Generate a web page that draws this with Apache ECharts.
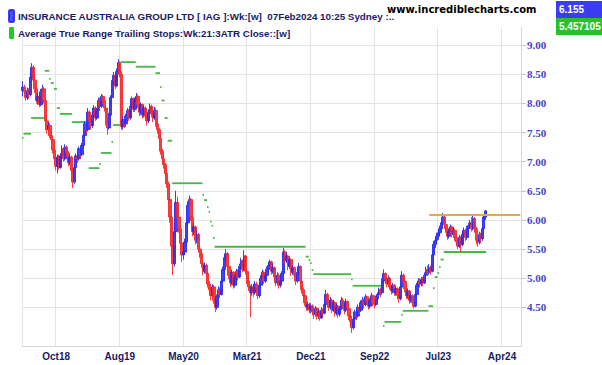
<!DOCTYPE html>
<html>
<head>
<meta charset="utf-8">
<script src="https://cdn.jsdelivr.net/npm/echarts@6/dist/echarts.min.js"></script>
<style>
html,body{margin:0;padding:0;background:#fff;}
#chart{width:602px;height:365px;}
</style>
</head>
<body>
<div id="chart"></div>
<script>
// ---- data ----
const priceTitle = 'INSURANCE AUSTRALIA GROUP LTD [ IAG ]:Wk:[w]  07Feb2024 10:25 Sydney :..';
const stopTitle = 'Average True Range Trailing Stops:Wk:21:3ATR Close::[w]';
const lastPrice = '6.155';
const lastStop = '5.457105';
const siteName = 'www.incrediblecharts.com';

const weekCount = 329;                       // weekly slots on the axis (incl. empty future space)
const tickWeeks = [22, 64, 106, 148, 190, 232, 274, 316];
const tickLabels = ['Oct18', 'Aug19', 'May20', 'Mar21', 'Dec21', 'Sep22', 'Jul23', 'Apr24'];
const yTickValues = [4.5, 5, 5.5, 6, 6.5, 7, 7.5, 8, 8.5, 9];

// weekly bars: [open, close, low, high]
const weeklyBars = [
[8.22,8.28,8.12,8.38],[8.28,8.20,8.14,8.32],[8.20,8.10,8.05,8.24],[8.10,8.22,8.06,8.27],[8.22,8.15,8.08,8.26],
[8.15,8.45,8.12,8.52],[8.45,8.62,8.40,8.69],[8.62,8.40,8.35,8.66],[8.40,8.25,8.18,8.46],[8.25,8.05,8.00,8.30],
[8.05,8.12,7.98,8.18],[8.12,7.98,7.94,8.16],[7.98,8.20,7.95,8.25],[8.20,8.25,8.12,8.32],[8.25,8.05,8.00,8.28],
[8.05,7.70,7.65,8.08],[7.70,7.55,7.48,7.76],[7.55,7.62,7.50,7.68],[7.62,7.45,7.40,7.66],[7.45,7.38,7.32,7.50],
[7.38,7.20,7.14,7.42],[7.20,7.05,7.00,7.24],[7.05,6.92,6.85,7.10],[6.92,7.08,6.80,7.12],[7.08,6.90,6.86,7.12],
[6.90,7.10,6.88,7.15],[7.10,7.22,7.05,7.28],[7.22,7.05,7.00,7.25],[7.05,7.25,7.02,7.30],[7.25,7.15,7.08,7.28],
[7.15,6.98,6.92,7.18],[6.98,7.08,6.94,7.12],[7.08,6.85,6.80,7.10],[6.85,6.65,6.55,6.90],[6.65,6.90,6.62,6.95],
[6.90,7.10,6.88,7.14],[7.10,7.05,6.98,7.15],[7.05,7.22,7.02,7.26],[7.22,7.12,7.06,7.25],[7.12,7.28,7.10,7.32],
[7.28,7.45,7.25,7.50],[7.45,7.65,7.42,7.70],[7.65,7.55,7.48,7.68],[7.55,7.85,7.52,7.92],[7.85,7.70,7.62,7.88],
[7.70,7.62,7.55,7.75],[7.62,7.80,7.58,7.84],[7.80,7.92,7.76,7.97],[7.92,7.75,7.70,7.95],[7.75,7.88,7.72,7.92],
[7.88,8.05,7.85,8.10],[8.05,7.95,7.90,8.10],[7.95,8.12,7.92,8.16],[8.12,8.05,7.98,8.15],[8.05,7.92,7.86,8.08],
[7.92,7.68,7.62,7.95],[7.68,7.58,7.46,7.72],[7.58,7.80,7.55,7.84],[7.80,8.10,7.78,8.14],[8.10,8.35,8.06,8.40],
[8.35,8.48,8.30,8.54],[8.48,8.30,8.25,8.52],[8.30,8.55,8.28,8.60],[8.55,8.70,8.50,8.76],[8.70,8.50,8.45,8.72],
[8.50,7.60,7.55,8.55],[7.60,7.72,7.55,7.78],[7.72,7.65,7.58,7.78],[7.65,7.78,7.60,7.82],[7.78,7.88,7.74,7.92],
[7.88,7.75,7.70,7.90],[7.75,7.95,7.72,8.00],[7.95,8.08,7.90,8.12],[8.08,7.90,7.85,8.10],[7.90,8.05,7.86,8.10],
[8.05,8.12,8.00,8.18],[8.12,7.98,7.92,8.15],[7.98,7.85,7.78,8.00],[7.85,7.98,7.80,8.02],[7.98,7.80,7.74,8.00],
[7.80,7.92,7.76,7.96],[7.92,7.78,7.72,7.95],[7.78,7.70,7.62,7.82],[7.70,7.85,7.66,7.90],[7.85,7.95,7.80,8.00],
[7.95,7.82,7.76,7.98],[7.82,7.75,7.68,7.86],[7.75,7.88,7.72,7.94],[7.88,7.65,7.60,7.92],[7.65,7.55,7.48,7.70],
[7.55,7.40,7.34,7.58],[7.40,7.18,7.12,7.44],[7.18,7.05,6.98,7.22],[7.05,6.95,6.88,7.10],[6.95,6.80,6.72,6.98],
[6.80,6.62,6.55,6.84],[6.62,6.35,6.28,6.66],[6.35,6.05,5.95,6.40],[6.05,5.55,5.35,6.10],[5.55,5.25,5.05,5.65],
[5.25,5.80,5.20,5.95],[5.80,6.30,5.75,6.50],[6.30,6.05,5.95,6.40],[6.05,5.85,5.78,6.12],[5.85,5.60,5.52,5.90],
[5.60,5.40,5.28,5.65],[5.40,5.45,5.32,5.55],[5.45,5.62,5.40,5.68],[5.62,5.95,5.58,6.02],[5.95,6.25,5.90,6.32],
[6.25,6.35,6.18,6.42],[6.35,6.05,5.98,6.38],[6.05,5.80,5.72,6.08],[5.80,5.88,5.74,5.94],[5.88,5.65,5.58,5.90],
[5.65,5.75,5.60,5.82],[5.75,5.50,5.44,5.78],[5.50,5.42,5.35,5.56],[5.42,5.25,5.18,5.45],[5.25,5.12,5.05,5.28],
[5.12,5.22,5.08,5.27],[5.22,5.08,5.02,5.25],[5.08,4.90,4.84,5.10],[4.90,4.80,4.74,4.95],[4.80,4.70,4.62,4.84],
[4.70,4.85,4.66,4.90],[4.85,4.62,4.56,4.88],[4.62,4.50,4.42,4.66],[4.50,4.68,4.46,4.72],[4.68,4.80,4.64,4.86],
[4.80,4.72,4.66,4.84],[4.72,4.95,4.70,5.00],[4.95,5.15,4.92,5.20],[5.15,5.35,5.12,5.40],[5.35,5.42,5.28,5.50],
[5.42,5.20,5.14,5.45],[5.20,5.05,4.98,5.24],[5.05,4.92,4.85,5.08],[4.92,5.10,4.88,5.15],[5.10,4.88,4.82,5.12],
[4.88,5.00,4.84,5.05],[5.00,5.12,4.96,5.16],[5.12,5.02,4.96,5.15],[5.02,5.20,5.00,5.25],[5.20,5.30,5.15,5.35],
[5.30,5.15,5.10,5.32],[5.15,5.38,5.12,5.48],[5.38,5.12,5.06,5.40],[5.12,4.95,4.90,5.15],[4.95,4.85,4.78,4.98],
[4.85,4.75,4.33,4.88],[4.75,4.85,4.70,4.90],[4.85,4.75,4.68,4.88],[4.75,4.90,4.72,4.95],[4.90,4.82,4.76,4.94],
[4.82,4.70,4.64,4.85],[4.70,4.88,4.66,4.92],[4.88,5.00,4.84,5.05],[5.00,5.10,4.96,5.15],[5.10,4.95,4.90,5.12],
[4.95,5.05,4.92,5.10],[5.05,5.15,5.00,5.20],[5.15,5.22,5.10,5.27],[5.22,5.28,5.16,5.32],[5.28,5.12,5.06,5.30],
[5.12,5.18,5.08,5.24],[5.18,5.02,4.96,5.20],[5.02,4.92,4.86,5.06],[4.92,5.05,4.88,5.10],[5.05,4.88,4.82,5.08],
[4.88,4.95,4.84,5.00],[4.95,5.08,4.92,5.12],[5.08,5.45,5.05,5.52],[5.45,5.30,5.24,5.48],[5.30,5.38,5.26,5.44],
[5.38,5.20,5.14,5.40],[5.20,5.32,5.16,5.36],[5.32,5.10,5.04,5.34],[5.10,5.18,5.06,5.22],[5.18,5.05,4.98,5.20],
[5.05,4.95,4.88,5.08],[4.95,5.10,4.92,5.15],[5.10,5.20,5.06,5.26],[5.20,4.95,4.90,5.22],[4.95,4.80,4.74,4.98],
[4.80,4.70,4.64,4.84],[4.70,4.58,4.52,4.72],[4.58,4.50,4.44,4.62],[4.50,4.55,4.45,4.60],[4.55,4.45,4.40,4.58],
[4.45,4.52,4.40,4.57],[4.52,4.42,4.36,4.55],[4.42,4.38,4.30,4.46],[4.38,4.48,4.34,4.52],[4.48,4.35,4.29,4.50],
[4.35,4.42,4.30,4.47],[4.42,4.32,4.27,4.45],[4.32,4.45,4.30,4.50],[4.45,4.40,4.34,4.48],[4.40,4.55,4.38,4.60],
[4.55,4.72,4.52,4.80],[4.72,4.60,4.54,4.75],[4.60,4.50,4.44,4.62],[4.50,4.62,4.46,4.68],[4.62,4.45,4.40,4.65],
[4.45,4.58,4.42,4.62],[4.58,4.40,4.34,4.60],[4.40,4.52,4.36,4.56],[4.52,4.38,4.32,4.54],[4.38,4.48,4.34,4.52],
[4.48,4.62,4.45,4.68],[4.62,4.55,4.48,4.66],[4.55,4.45,4.38,4.58],[4.45,4.60,4.42,4.65],[4.60,4.48,4.42,4.62],
[4.48,4.35,4.28,4.50],[4.35,4.25,4.18,4.38],[4.25,4.15,4.06,4.28],[4.15,4.30,4.12,4.34],[4.30,4.42,4.26,4.46],
[4.42,4.35,4.28,4.45],[4.35,4.50,4.32,4.55],[4.50,4.45,4.38,4.54],[4.45,4.58,4.42,4.62],[4.58,4.62,4.52,4.68],
[4.62,4.55,4.48,4.65],[4.55,4.68,4.52,4.72],[4.68,4.60,4.54,4.70],[4.60,4.52,4.46,4.63],[4.52,4.62,4.48,4.66],
[4.62,4.70,4.58,4.75],[4.70,4.58,4.52,4.72],[4.58,4.55,4.48,4.62],[4.55,4.65,4.52,4.70],[4.65,4.72,4.60,4.76],
[4.72,4.80,4.68,4.84],[4.80,4.75,4.68,4.84],[4.75,4.95,4.72,5.00],[4.95,5.08,4.92,5.15],[5.08,4.98,4.92,5.10],
[4.98,4.90,4.84,5.02],[4.90,5.00,4.86,5.05],[5.00,4.85,4.80,5.02],[4.85,4.78,4.72,4.88],[4.78,4.88,4.74,4.92],
[4.88,4.75,4.70,4.90],[4.75,4.82,4.70,4.86],[4.82,4.70,4.64,4.84],[4.70,4.65,4.58,4.74],[4.65,4.85,4.62,4.90],
[4.85,5.05,4.82,5.12],[5.05,4.95,4.88,5.08],[4.95,4.82,4.76,4.98],[4.82,4.70,4.64,4.85],[4.70,4.78,4.65,4.82],
[4.78,4.62,4.56,4.80],[4.62,4.70,4.58,4.75],[4.70,4.58,4.52,4.72],[4.58,4.52,4.48,4.62],[4.52,4.72,4.50,4.76],
[4.72,4.88,4.68,4.92],[4.88,4.95,4.84,5.00],[4.95,4.90,4.84,5.00],[4.90,4.98,4.86,5.02],[4.98,4.92,4.86,5.02],
[4.92,5.05,4.90,5.10],[5.05,5.15,5.02,5.20],[5.15,5.10,5.04,5.22],[5.10,5.18,5.06,5.24],[5.18,5.12,5.06,5.22],
[5.12,5.40,5.10,5.46],[5.40,5.58,5.36,5.64],[5.58,5.65,5.52,5.70],[5.65,5.72,5.60,5.78],[5.72,5.78,5.66,5.84],
[5.78,5.85,5.72,5.90],[5.85,5.95,5.80,6.00],[5.95,6.05,5.90,6.12],[6.05,5.92,5.86,6.10],[5.92,5.85,5.78,5.96],
[5.85,5.72,5.66,5.88],[5.72,5.80,5.68,5.85],[5.80,5.88,5.74,5.92],[5.88,5.75,5.70,5.90],[5.75,5.82,5.70,5.87],
[5.82,5.70,5.64,5.85],[5.70,5.62,5.56,5.74],[5.62,5.55,5.50,5.66],[5.55,5.70,5.52,5.74],[5.70,5.58,5.45,5.72],
[5.58,5.75,5.55,5.80],[5.75,5.82,5.70,5.87],[5.82,5.70,5.64,5.85],[5.70,5.85,5.66,5.90],[5.85,5.90,5.80,5.95],
[5.90,5.95,5.85,6.00],[5.95,5.85,5.80,6.05],[5.85,6.02,5.82,6.10],[6.02,5.85,5.78,6.05],[5.85,5.65,5.58,5.88],
[5.65,5.62,5.54,5.70],[5.62,5.75,5.58,5.80],[5.75,5.68,5.60,5.78],[5.68,5.85,5.64,5.90],[5.85,6.05,5.82,6.10],
[6.05,6.155,6.00,6.17]
];

// ATR trailing stop: [firstWeek, lastWeek, stopLevel]
const stopRuns = [
[0,0,7.41],[1,5,7.48],[6,14,7.75],[15,17,8.56],[18,18,8.42],[19,20,8.35],[21,22,8.25],[23,24,7.92],
[25,32,7.82],[33,43,7.68],[44,50,6.89],[51,51,6.96],[52,58,7.15],[59,59,7.34],[60,64,7.63],[65,74,8.71],
[75,87,8.63],[88,90,8.52],[91,91,8.28],[92,93,8.05],[94,95,7.75],[96,98,7.36],[99,118,6.63],[119,119,6.43],
[120,121,6.34],[122,122,6.22],[123,123,6.14],[124,124,5.97],[125,125,5.90],[126,126,5.69],[127,186,5.54],
[187,188,5.37],[189,189,5.31],[190,190,5.26],[191,191,5.14],[192,216,5.07],[217,217,4.98],[218,237,4.87],
[238,238,4.18],[239,249,4.25],[250,250,4.37],[251,267,4.44],[268,270,4.52],[271,271,4.83],[272,273,5.02],
[274,274,5.09],[275,275,5.19],[276,277,5.32],[278,305,5.45]
];

// user-drawn resistance line
const resistanceLevel = 6.09;
const resistanceFromWeek = 268;
const resistanceToWeek = 328;

// ---- chart ----
const categories = Array.from({length: weekCount}, (_, i) => String(i));
const chart = echarts.init(document.getElementById('chart'), null, {renderer: 'svg'});

const blue = '#2a2af5';
const red = '#f52a2a';
const green = '#45b845';

chart.setOption({
  animation: false,
  backgroundColor: '#ffffff',
  legend: {
    orient: 'vertical',
    left: 3, top: 4,
    itemWidth: 5, itemHeight: 12, itemGap: 4,
    selectedMode: false,
    textStyle: {color: '#1a1a66', fontWeight: 'bold', fontSize: 9.8, fontFamily: 'Liberation Sans, Arial', padding: [0,0,0,-1]},
    data: [
      {name: priceTitle, icon: 'roundRect', itemStyle: {color: '#3a3aff'}},
      {name: stopTitle, icon: 'roundRect', itemStyle: {color: '#22cc22'}}
    ]
  },
  graphic: [
    {type: 'rect', left: 385, top: 1, shape: {width: 170, height: 16}, style: {fill: '#ffffff'}},
    {type: 'text', left: 387, top: 4, style: {text: siteName, fill: '#000', font: 'bold 10px "DejaVu Sans"'}},
    {type: 'rect', left: 556, top: 1, shape: {width: 46, height: 17}, style: {fill: '#3b3bf0'}},
    {type: 'text', left: 559, top: 4, style: {text: lastPrice, fill: '#fff', font: 'bold 10px "Liberation Sans"'}},
    {type: 'rect', left: 556, top: 18, shape: {width: 46, height: 17}, style: {fill: '#27c227'}},
    {type: 'text', left: 559, top: 21, style: {text: lastStop, fill: '#fff', font: 'bold 10px "Liberation Sans"'}}
  ],
  grid: {left: 22, right: 81, top: 27, bottom: 19, containLabel: false},
  xAxis: {
    type: 'category',
    data: categories,
    boundaryGap: true,
    axisLine: {show: true, lineStyle: {color: '#d8d8d8', width: 1}},
    axisTick: {show: false},
    axisLabel: {
      interval: (i) => tickWeeks.includes(i),
      formatter: (v, i) => tickLabels[tickWeeks.indexOf(Number(v))] || '',
      color: '#1a1a5e', fontWeight: 'bold', fontSize: 10, fontFamily: 'Liberation Sans, Arial', margin: 5
    },
    splitLine: {
      show: true,
      interval: (i) => i === 0 || tickWeeks.includes(i),
      lineStyle: {color: '#e4e4e4', width: 1}
    }
  },
  yAxis: {
    type: 'value',
    position: 'right',
    min: 3.836, max: 9.312,
    axisLine: {show: true, lineStyle: {color: '#d8d8d8'}},
    axisTick: {show: true, customValues: yTickValues, length: 5, lineStyle: {color: '#c8c8c8'}},
    axisLabel: {
      customValues: yTickValues,
      formatter: (v) => v.toFixed(2),
      color: '#4444c6', fontWeight: 'bold', fontSize: 11, fontFamily: 'Liberation Serif, Times New Roman', margin: 6
    },
    splitLine: {show: true, lineStyle: {color: '#e4e4e4', width: 1}}
  },
  series: [
    {
      name: priceTitle,
      type: 'candlestick',
      data: weeklyBars,
      barWidth: 2.8,
      itemStyle: {color: blue, color0: red, borderColor: blue, borderColor0: red, borderWidth: 1, opacity: 0.9},
      emphasis: {disabled: true},
      markLine: {
        silent: true,
        symbol: ['none', 'none'],
        label: {show: false},
        lineStyle: {color: '#e6a556', width: 2, type: 'solid'},
        data: [[
          {coord: [categories[resistanceFromWeek], resistanceLevel]},
          {coord: [categories[resistanceToWeek], resistanceLevel]}
        ]]
      }
    },
    {
      name: stopTitle,
      type: 'custom',
      data: stopRuns,
      dimensions: ['from', 'to', 'stop'],
      encode: {x: [0, 1], y: 2},
      itemStyle: {color: green},
      renderItem: (params, api) => {
        const v = api.value(2);
        const p1 = api.coord([api.value(0), v]);
        const p2 = api.coord([api.value(1), v]);
        const half = api.size([1, 0])[0] / 2;
        return {
          type: 'line',
          shape: {x1: p1[0] - half, y1: p1[1], x2: p2[0] + half, y2: p2[1]},
          style: {stroke: green, lineWidth: 1.8}
        };
      }
    }
  ]
});
</script>
</body>
</html>
